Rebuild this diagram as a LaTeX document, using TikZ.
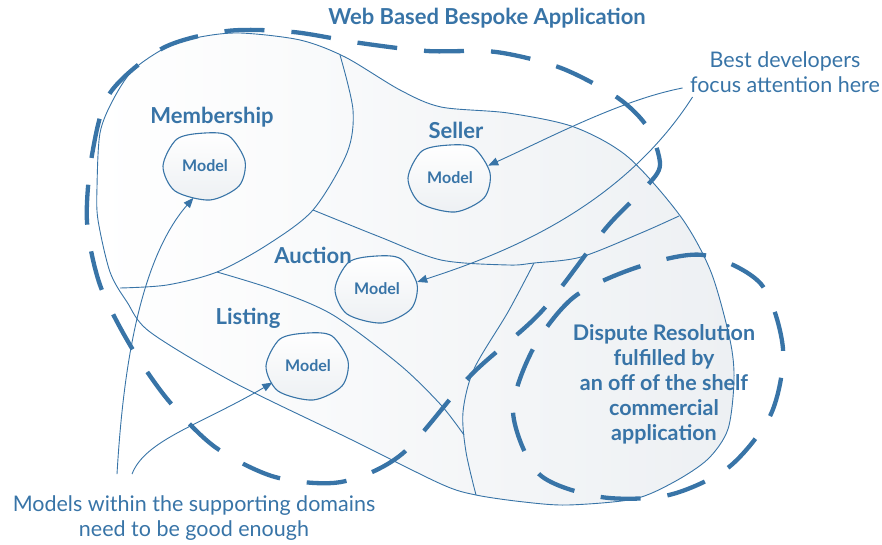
\documentclass[tikz,border=0pt]{standalone}
\usepackage{fontspec}
\setmainfont{Lato}
\usetikzlibrary{arrows.meta,shapes.geometric}
\definecolor{appblue}{RGB}{56,116,167}
\definecolor{appgrey}{RGB}{237,240,243}

\begin{document}
\begin{tikzpicture}[x=1pt, y=-1pt, >={Triangle[length=10pt,width=8pt]},
  every line/.style={draw=appblue, line width=0.9pt},
  big dash/.style={draw=appblue, line width=4.3pt, dash pattern=on 40pt off 27pt},
  every model/.style={ellipse, minimum width=82pt, minimum height=66pt, inner sep=0pt,
    text=appblue, font=\bfseries\fontsize{16}{18}\selectfont},
  domain label/.style={text=appblue, font=\bfseries\fontsize{22}{25}\selectfont},
  note/.style={text=appblue, align=center, font=\fontsize{21.5}{25}\selectfont}]

\useasboundingbox (0,0) rectangle (882,545);

\path [every line, left color=white, right color=appgrey] plot [smooth cycle] coordinates {
  (240,33) (300,40) (345,57) (400,90) (441,107) (508,113) (574,127) (628,157)
  (681,217) (711,272) (730,340) (734,380) (728,429) (708,459) (674,482) (634,499)
  (568,505) (524,502) (476,495) (441,484) (350,439) (233,382) (150,332) (127,302)
  (110,272) (98,220) (97,187) (100,133) (113,100) (133,70) (167,47) (200,37)};

\draw [every line] plot [smooth] coordinates {
  (340,55) (353,110) (347,153) (313,210) (267,245) (217,272) (167,285) (120,288)};
\draw [every line] plot [smooth] coordinates {
  (313,210) (380,237) (441,260) (508,265) (534,263) (581,257) (641,233) (679,216)};
\draw [every line] plot [smooth] coordinates {
  (534,263) (508,312) (474,369) (463,412) (466,452) (476,495)};
\draw [every line] plot [smooth] coordinates {
  (217,272) (275,290) (333,315) (400,365) (441,405) (464,435)};

\draw [big dash] plot [smooth cycle] coordinates {
  (92,155) (110,93) (163,48) (227,31) (293,32) (360,43) (427,51) (496,52)
  (561,68) (618,98) (648,128) (660,165) (645,188) (606,228) (541,312) (471,375)
  (402,454) (341,482) (275,477) (215,447) (168,400) (130,345) (100,285) (87,222)};

\draw [big dash] plot [smooth cycle] coordinates {
  (638,267) (574,297) (533,349) (513,412) (539,474) (601,497) (669,495) (729,467)
  (771,414) (783,349) (761,284) (703,255)};

\foreach \n/\x/\y in {membership/205/166, seller/450/178, auction/377/289, listing/308/366} {
  \draw [every line, line width=1.1pt, top color=white, bottom color=appgrey, shift={(\x,\y)}]
    plot [smooth cycle] coordinates {(-42,0) (-28,-27) (0,-33) (24,-30)
      (40,-5) (34,20) (5,34) (-30,25)};
  \node [every model] (model-\n) at (\x,\y) {Model};
}

\foreach \n/\l/\x/\y in {membership/Membership/212/117, seller/Seller/456/130,
    auction/Auction/313/255, listing/Listing/248/318}
  \node [domain label] (label-\n) at (\x,\y) {\l};

\node [domain label] (title) at (487,18) {Web Based Bespoke Application};

\node [note] (note-best) at (785,72) {Best developers\\focus attention here};
\node [note] (note-models) at (194,518) {Models within the supporting domains\\need to be good enough};
\node [note, font=\bfseries\fontsize{21.5}{25}\selectfont] (note-dispute) at (664,384)
  {Dispute Resolution\\fulfilled by\\an off of the shelf\\commercial\\application};

\draw [every line, ->] ([shift={(-77,-18)}]note-models.north)
  .. controls (122,390) and (135,265) .. (model-membership.250);
\draw [every line, ->] ([shift={(-62,-18)}]note-models.north)
  .. controls (145,440) and (200,425) .. (model-listing.205);
\draw [every line, ->] ([shift={(-4,16)}]note-best.west)
  .. controls (620,100) and (545,140) .. (model-seller.18);
\draw [every line, ->] ([shift={(6,25)}]note-best.west)
  .. controls (620,210) and (500,255) .. (model-auction.10);

\end{tikzpicture}
\end{document}
